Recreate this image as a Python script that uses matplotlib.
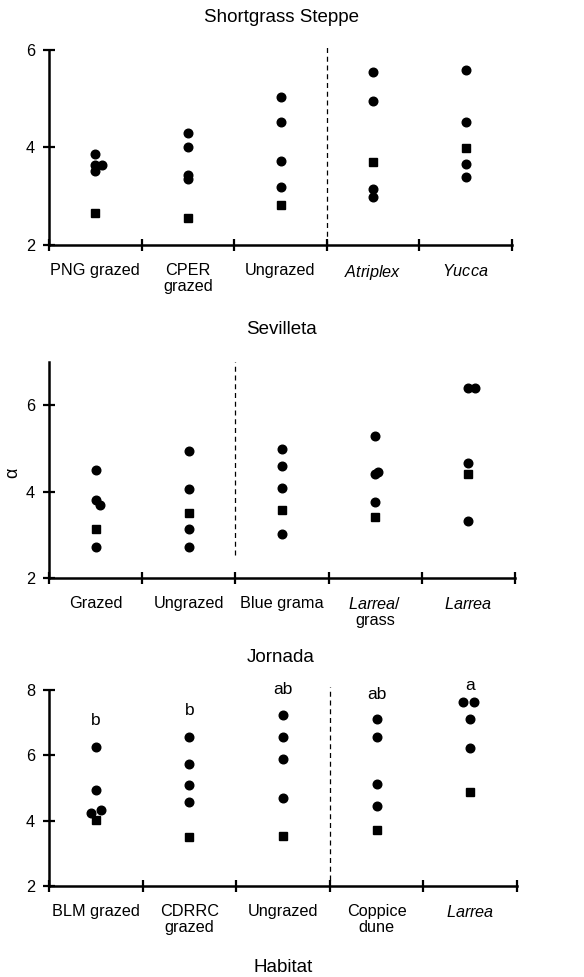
import matplotlib
matplotlib.use("Agg")
import matplotlib.pyplot as plt
import numpy as np

plt.rcParams['font.family'] = ['Liberation Sans', 'DejaVu Sans']
plt.rcParams['mathtext.fontset'] = 'custom'
plt.rcParams['mathtext.it'] = 'Liberation Sans:italic'
plt.rcParams['mathtext.rm'] = 'Liberation Sans'

# ---------------- data ----------------
# Shortgrass Steppe
sgs_labels = ["PNG grazed", "CPER\ngrazed", "Ungrazed", "$\\it{Atriplex}$", "$\\it{Yucca}$"]
sgs_circles = [[3.87, 3.65, 3.65, 3.52],
               [4.30, 4.01, 3.43, 3.36],
               [5.04, 4.52, 3.72, 3.18],
               [5.55, 4.95, 3.14, 2.98],
               [5.58, 4.52, 3.67, 3.40]]
sgs_jitter = [[0, 0, 0.075, 0], [0, 0, 0, 0], [0, 0, 0, 0], [0, 0, 0, 0], [0, 0, 0, 0]]
sgs_squares = [2.66, 2.56, 2.83, 3.71, 3.98]

# Sevilleta
sev_labels = ["Grazed", "Ungrazed", "Blue grama", "$\\it{Larrea/}$\ngrass", "$\\it{Larrea}$"]
sev_circles = [[4.49, 3.80, 3.70, 2.71],
               [4.94, 4.05, 3.13, 2.71],
               [4.98, 4.59, 4.08, 3.01],
               [5.29, 4.40, 4.45, 3.77],
               [6.39, 6.39, 4.66, 3.32]]
sev_jitter = [[0, 0, 0.045, 0], [0, 0, 0, 0], [0, 0, 0, 0], [0, 0, 0.035, 0], [0, 0.07, 0, 0]]
sev_squares = [3.13, 3.50, 3.57, 3.41, 4.40]

# Jornada
jor_labels = ["BLM grazed", "CDRRC\ngrazed", "Ungrazed", "Coppice\ndune", "$\\it{Larrea}$"]
jor_circles = [[6.24, 4.93, 4.23, 4.33],
               [6.55, 5.72, 5.09, 4.57],
               [7.23, 6.55, 5.88, 4.69],
               [7.12, 6.55, 5.11, 4.46],
               [7.63, 7.63, 7.12, 6.21]]
jor_jitter = [[0, 0, -0.055, 0.06], [0, 0, 0, 0], [0, 0, 0, 0], [0, 0, 0, 0], [-0.075, 0.04, 0, 0]]
jor_squares = [4.02, 3.51, 3.54, 3.71, 4.88]
jor_letters = ["b", "b", "ab", "ab", "a"]
jor_letter_y = [7.07, 7.36, 8.0, 7.86, 8.15]

W, H = 584, 977
fig = plt.figure(figsize=(W / 100, H / 100), dpi=100)


def px_axes(left, right, top, bottom):
    return fig.add_axes([left / W, 1 - bottom / H, (right - left) / W, (bottom - top) / H])


def setup(ax, labels, circles, jitter, squares, ylim, yticks, dash_x, dash_y):
    n = len(labels)
    centers = np.arange(n) + 0.5
    for i in range(n):
        xs = centers[i] + np.array(jitter[i])
        ax.plot(xs, circles[i], 'o', color='black', markersize=6.2, linestyle='none', clip_on=False)
        ax.plot([centers[i]], [squares[i]], 's', color='black', markersize=5.4, linestyle='none', clip_on=False)
    ax.plot([dash_x, dash_x], dash_y, color='black', linestyle=(0, (4, 3)), linewidth=0.9, clip_on=False)
    ax.set_xlim(0, n)
    ax.set_ylim(*ylim)
    ax.set_xticks(centers)
    ax.set_xticklabels(labels, fontsize=11.7, linespacing=1.05)
    ax.set_xticks(np.arange(n + 1), minor=True)
    ax.tick_params(axis='x', which='major', length=0, pad=13)
    ax.tick_params(axis='x', which='minor', length=8, width=1.6, direction='inout')
    ax.set_yticks(yticks)
    ax.set_yticklabels([str(t) for t in yticks], fontsize=11.7)
    ax.tick_params(axis='y', length=8, width=1.6, direction='inout', pad=6)
    for s in ['top', 'right']:
        ax.spines[s].set_visible(False)
    for s in ['left', 'bottom']:
        ax.spines[s].set_linewidth(1.8)
    return centers


# Panel 1
ax1 = px_axes(49, 512, 50, 245)
setup(ax1, sgs_labels, sgs_circles, sgs_jitter, sgs_squares, (2, 6), [2, 4, 6], 3, (2, 6.1))
fig.text(281 / W, 1 - 18 / H, "Shortgrass Steppe", ha='center', va='center', fontsize=13.5)

# Panel 2
ax2 = px_axes(49, 515, 362, 578)
setup(ax2, sev_labels, sev_circles, sev_jitter, sev_squares, (2, 7), [2, 4, 6], 2, (2.53, 7))
fig.text(281 / W, 1 - 330 / H, "Sevilleta", ha='center', va='center', fontsize=13.5)
fig.text(13 / W, 1 - 473 / H, "α", ha='center', va='center', rotation=90, fontsize=13)

# Panel 3
ax3 = px_axes(49, 517, 690, 886)
c3 = setup(ax3, jor_labels, jor_circles, jor_jitter, jor_squares, (2, 8), [2, 4, 6, 8], 3, (2.17, 8.1))
for i, (lab, yy) in enumerate(zip(jor_letters, jor_letter_y)):
    ax3.text(c3[i], yy, lab, ha='center', va='center', fontsize=12.5, clip_on=False)
fig.text(281 / W, 1 - 657 / H, "Jornada", ha='center', va='center', fontsize=13.5)
fig.text(283 / W, 1 - 968 / H, "Habitat", ha='center', va='center', fontsize=13.5)

fig.savefig("out.png", dpi=100)
